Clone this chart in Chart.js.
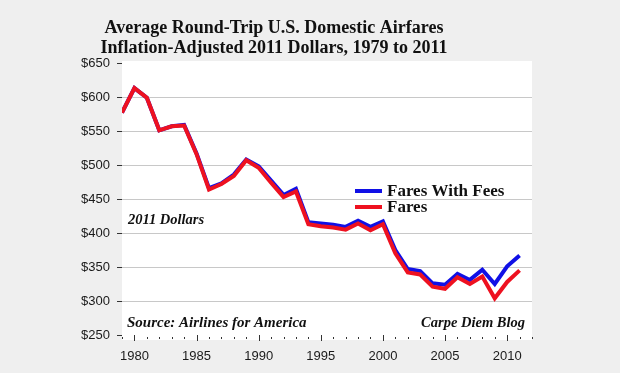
<!DOCTYPE html>
<html lang="en">
<head>
  <meta charset="UTF-8"/>
  <title>Average Round-Trip U.S. Domestic Airfares</title>
  <script src="https://cdn.jsdelivr.net/npm/chart.js"></script>
  <style>
    html, body {
      margin: 0;
      padding: 0;
      background: #efefef;
    }
    .wrap {
      width: 620px;
      height: 373px;
    }
  </style>
</head>
<body>

<div class="wrap">
  <canvas id="fares" width="620" height="373"></canvas>
</div>

<script>
  // values, 2011 dollars
  const years = [1979, 1980, 1981, 1982, 1983, 1984, 1985, 1986, 1987, 1988, 1989,
                 1990, 1991, 1992, 1993, 1994, 1995, 1996, 1997, 1998, 1999, 2000,
                 2001, 2002, 2003, 2004, 2005, 2006, 2007, 2008, 2009, 2010, 2011];
  const faresWithFees = [577, 613, 599, 551, 557, 559, 517, 466, 473, 486, 508,
                         498, 477, 456, 465, 416, 414, 412, 409, 418, 409, 417,
                         375, 347, 344, 326, 324, 340, 331, 346, 325, 351, 367];
  const fares = [577, 613, 599, 551, 557, 558, 516, 464, 472, 484, 507,
                 496, 474, 453, 461, 413, 410, 408, 405, 414, 404, 413,
                 370, 342, 339, 321, 318, 335, 325, 336, 304, 328, 345];
  const yTicks = [250, 300, 350, 400, 450, 500, 550, 600, 650];
  const titleLines = ["Average Round-Trip U.S. Domestic Airfares",
                      "Inflation-Adjusted 2011 Dollars, 1979 to 2011"];

  const serif = "'Liberation Serif', 'Times New Roman', serif";

  const decor = {
    id: "decor",
    beforeDraw(chart) {
      const { ctx, chartArea: a } = chart;
      ctx.save();
      ctx.fillStyle = "#ffffff";
      ctx.fillRect(a.left, a.top - 2, a.right - a.left, a.bottom - a.top + 7);
      ctx.restore();
    },
    afterDraw(chart) {
      const { ctx, chartArea: a } = chart;
      const x = chart.scales.x;
      ctx.save();

      // year tick marks, longer every five years
      ctx.strokeStyle = "#333";
      ctx.lineWidth = 1;
      for (let yr = 1979; yr <= 2012; yr++) {
        const px = Math.round(x.getPixelForValue(yr)) + 0.5;
        const len = yr % 5 === 0 ? 6 : 4;
        ctx.beginPath();
        ctx.moveTo(px, a.bottom + (yr % 5 === 0 ? 0 : 2));
        ctx.lineTo(px, a.bottom + len);
        ctx.stroke();
      }

      // title
      ctx.fillStyle = "#111";
      ctx.textAlign = "center";
      ctx.textBaseline = "middle";
      ctx.font = "bold 18px " + serif;
      ctx.fillText(titleLines[0], 274, 28);
      ctx.fillText(titleLines[1], 274, 48);

      // legend
      const sets = chart.data.datasets;
      const rows = [{ ds: sets[0], y: 191 }, { ds: sets[1], y: 207 }];
      rows.forEach(r => {
        ctx.strokeStyle = r.ds.borderColor;
        ctx.lineWidth = 4;
        ctx.beginPath();
        ctx.moveTo(355, r.y);
        ctx.lineTo(382, r.y);
        ctx.stroke();
        ctx.fillStyle = "#111";
        ctx.textAlign = "left";
        ctx.font = "bold 17px " + serif;
        ctx.fillText(r.ds.label, 387, r.y + 1);
      });

      // notes
      ctx.font = "italic bold 14.5px " + serif;
      ctx.fillText("2011 Dollars", 128, 220);
      ctx.font = "italic bold 15px " + serif;
      ctx.fillText("Source: Airlines for America", 127, 323);
      ctx.textAlign = "right";
      ctx.font = "italic bold 14.5px " + serif;
      ctx.fillText("Carpe Diem Blog", 525, 323);
      ctx.restore();
    }
  };

  new Chart(document.getElementById("fares"), {
    type: "line",
    data: {
      labels: years,
      datasets: [
        {
          label: "Fares With Fees",
          data: years.map((y, i) => ({ x: y, y: faresWithFees[i] })),
          borderColor: "#1010e6",
          borderWidth: 4,
          pointRadius: 0,
          order: 2
        },
        {
          label: "Fares",
          data: years.map((y, i) => ({ x: y, y: fares[i] })),
          borderColor: "#ee1120",
          borderWidth: 4,
          pointRadius: 0,
          order: 1
        }
      ]
    },
    options: {
      responsive: false,
      animation: false,
      layout: { padding: { top: 63, right: 88, left: 0, bottom: 0 } },
      plugins: {
        legend: { display: false },
        title: { display: false },
        tooltip: { enabled: false }
      },
      scales: {
        x: {
          type: "linear",
          min: 1979,
          max: 2012,
          afterFit: s => { s.height = 38; },
          border: { display: false },
          grid: { display: false },
          ticks: {
            stepSize: 1,
            autoSkip: false,
            maxRotation: 0,
            padding: 6,
            color: "#1a1a1a",
            font: { family: "'Liberation Sans', Arial, sans-serif", size: 13 },
            callback: v => (v % 5 === 0 ? String(v) : "")
          }
        },
        y: {
          min: 250,
          max: 650,
          afterFit: s => { s.width = 122; },
          afterBuildTicks: s => { s.ticks = yTicks.map(v => ({ value: v })); },
          border: { display: false },
          grid: {
            color: c => (c.tick && c.tick.value > 250 && c.tick.value < 650 ? "#c8c8c8" : "rgba(0,0,0,0)"),
            tickColor: "#333",
            tickLength: 5,
            lineWidth: 1
          },
          ticks: {
            padding: 7,
            color: "#1a1a1a",
            font: { family: "'Liberation Sans', Arial, sans-serif", size: 13 },
            callback: v => "$" + v
          }
        }
      }
    },
    plugins: [decor]
  });
</script>

</body>
</html>
